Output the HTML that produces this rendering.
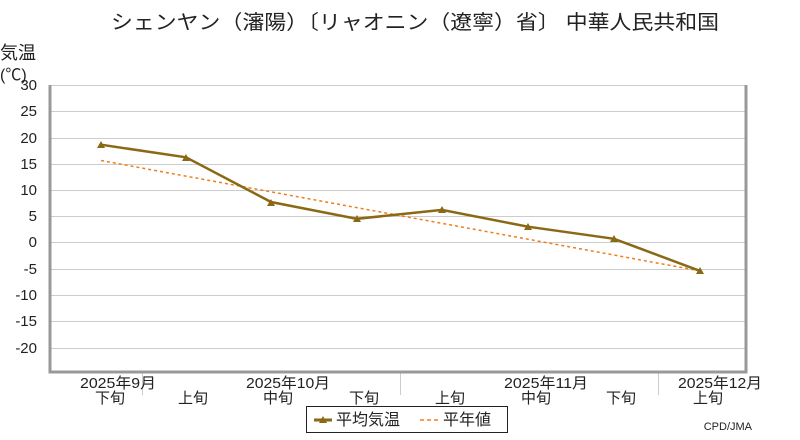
<!DOCTYPE html><html><head><style>body{margin:0;background:#fff}svg{display:block}text{font-family:"Liberation Sans","Noto Sans CJK JP",sans-serif;fill:#222}</style></head><body>
<svg width="800" height="440" xmlns="http://www.w3.org/2000/svg">
<text x="415" y="29" font-size="20" text-anchor="middle" textLength="608" lengthAdjust="spacingAndGlyphs">シェンヤン（瀋陽）〔リャオニン（遼寧）省〕 中華人民共和国</text>
<text x="0" y="59" font-size="18">気温</text>
<text x="0" y="80" font-size="16">(℃)</text>
<g stroke="#ccc" stroke-width="1">
<line x1="50" x2="745" y1="85.5" y2="85.5"/><line x1="50" x2="745" y1="111.5" y2="111.5"/><line x1="50" x2="745" y1="138.5" y2="138.5"/><line x1="50" x2="745" y1="164.5" y2="164.5"/><line x1="50" x2="745" y1="190.5" y2="190.5"/><line x1="50" x2="745" y1="216.5" y2="216.5"/><line x1="50" x2="745" y1="242.5" y2="242.5"/><line x1="50" x2="745" y1="269.5" y2="269.5"/><line x1="50" x2="745" y1="295.5" y2="295.5"/><line x1="50" x2="745" y1="321.5" y2="321.5"/><line x1="50" x2="745" y1="348.5" y2="348.5"/>
<line x1="142.5" x2="142.5" y1="372" y2="395"/><line x1="400.5" x2="400.5" y1="372" y2="395"/><line x1="658.5" x2="658.5" y1="372" y2="395"/>
</g>
<path d="M50 85V372H746V85" fill="none" stroke="#999" stroke-width="3"/>
<g font-size="15" text-anchor="end">
<text x="37" y="90">30</text><text x="37" y="116">25</text><text x="37" y="143">20</text><text x="37" y="169">15</text><text x="37" y="195">10</text><text x="37" y="221">5</text><text x="37" y="247">0</text><text x="37" y="274">-5</text><text x="37" y="300">-10</text><text x="37" y="326">-15</text><text x="37" y="353">-20</text>
</g>
<g font-size="15" text-anchor="middle">
<text x="118" y="388" textLength="76" lengthAdjust="spacingAndGlyphs">2025年9月</text><text x="288" y="388" textLength="84" lengthAdjust="spacingAndGlyphs">2025年10月</text><text x="546" y="388" textLength="84" lengthAdjust="spacingAndGlyphs">2025年11月</text><text x="720" y="388" textLength="84" lengthAdjust="spacingAndGlyphs">2025年12月</text>
<text x="110" y="403">下旬</text><text x="193" y="403">上旬</text><text x="278" y="403">中旬</text><text x="364" y="403">下旬</text><text x="450" y="403">上旬</text><text x="536" y="403">中旬</text><text x="621" y="403">下旬</text><text x="708" y="403">上旬</text>
</g>
<polyline points="101,160.5 700,270.9" fill="none" stroke="#f07d1a" stroke-width="1.5" stroke-dasharray="3,3"/>
<polyline points="101,144.7 186,157.3 271,202 357,218.8 442,209.9 528,226.7 614,238.8 700,270.9" fill="none" stroke="#8b6914" stroke-width="2.5"/>
<g fill="#8b6914">
<path d="M97 148h8l-4-7z"/><path d="M182 161h8l-4-7z"/><path d="M267 206h8l-4-7z"/><path d="M353 222h8l-4-7z"/><path d="M438 213h8l-4-7z"/><path d="M524 230h8l-4-7z"/><path d="M610 242h8l-4-7z"/><path d="M696 274h8l-4-7z"/>
</g>
<rect x="306.5" y="406.5" width="201" height="26" fill="#fff" stroke="#222"/>
<line x1="314" x2="332" y1="420" y2="420" stroke="#8b6914" stroke-width="3"/><path d="M319 423h8l-4-7z" fill="#8b6914"/>
<text x="336" y="425" font-size="16">平均気温</text>
<line x1="420" x2="438" y1="420" y2="420" stroke="#f07d1a" stroke-width="1.5" stroke-dasharray="4,3"/>
<text x="443" y="425" font-size="16">平年値</text>
<text x="752" y="430" font-size="11" text-anchor="end" font-family="Liberation Mono">CPD/JMA</text>
</svg></body></html>
